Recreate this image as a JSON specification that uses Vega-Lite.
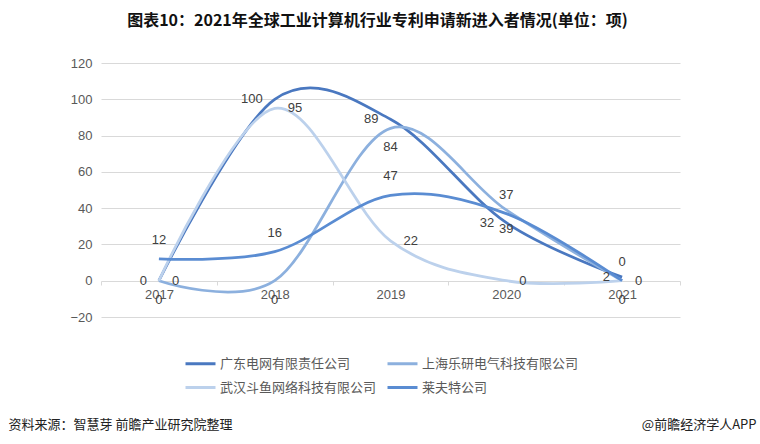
{
  "$schema": "https://vega.github.io/schema/vega-lite/v6.json",
  "autosize": {"type": "none"},
  "width": 579,
  "height": 254,
  "padding": {"left": 101, "top": 63, "right": 80, "bottom": 127},
  "background": "white",
  "title": {
    "text": "图表10：2021年全球工业计算机行业专利申请新进入者情况(单位：项)",
    "font": "Noto Sans CJK SC",
    "fontSize": 16,
    "fontWeight": "bold",
    "color": "#111111",
    "anchor": "middle",
    "dx": -13,
    "offset": 28
  },
  "data": {
    "values": [
      {"company": "广东电网有限责任公司", "year": "2017", "value": 0},
      {"company": "广东电网有限责任公司", "year": "2018", "value": 100},
      {"company": "广东电网有限责任公司", "year": "2019", "value": 89},
      {"company": "广东电网有限责任公司", "year": "2020", "value": 32},
      {"company": "广东电网有限责任公司", "year": "2021", "value": 2},
      {"company": "上海乐研电气科技有限公司", "year": "2017", "value": 0},
      {"company": "上海乐研电气科技有限公司", "year": "2018", "value": 0},
      {"company": "上海乐研电气科技有限公司", "year": "2019", "value": 84},
      {"company": "上海乐研电气科技有限公司", "year": "2020", "value": 39},
      {"company": "上海乐研电气科技有限公司", "year": "2021", "value": 0},
      {"company": "武汉斗鱼网络科技有限公司", "year": "2017", "value": 0},
      {"company": "武汉斗鱼网络科技有限公司", "year": "2018", "value": 95},
      {"company": "武汉斗鱼网络科技有限公司", "year": "2019", "value": 22},
      {"company": "武汉斗鱼网络科技有限公司", "year": "2020", "value": 0},
      {"company": "武汉斗鱼网络科技有限公司", "year": "2021", "value": 0},
      {"company": "莱夫特公司", "year": "2017", "value": 12},
      {"company": "莱夫特公司", "year": "2018", "value": 16},
      {"company": "莱夫特公司", "year": "2019", "value": 47},
      {"company": "莱夫特公司", "year": "2020", "value": 37},
      {"company": "莱夫特公司", "year": "2021", "value": 0}
    ]
  },
  "encoding": {
    "x": {
      "field": "year",
      "type": "ordinal",
      "bandPosition": 0.5,
      "scale": {"type": "band", "paddingInner": 0, "paddingOuter": 0},
      "axis": {
        "title": "@前瞻经济学人APP",
        "titleFont": "Noto Sans CJK SC",
        "titleFontSize": 13,
        "titleFontWeight": "normal",
        "titleColor": "#222222",
        "titleAlign": "right",
        "titleBaseline": "middle",
        "titleX": 655,
        "titleY": 143,
        "offset": -36,
        "labelAngle": 0,
        "labelFont": "Liberation Sans",
        "labelFontSize": 13,
        "labelColor": "#595959",
        "labelPadding": 3,
        "domain": false,
        "ticks": true,
        "tickBand": "extent",
        "tickColor": "#d9d9d9",
        "tickSize": 4,
        "grid": false
      }
    },
    "y": {
      "field": "value",
      "type": "quantitative",
      "scale": {"domain": [-20, 120], "nice": false, "zero": false},
      "axis": {
        "values": [-20, 0, 20, 40, 60, 80, 100, 120],
        "title": "资料来源：智慧芽 前瞻产业研究院整理",
        "titleFont": "Noto Sans CJK SC",
        "titleFontSize": 13,
        "titleFontWeight": "normal",
        "titleColor": "#222222",
        "titleAngle": 0,
        "titleAlign": "left",
        "titleBaseline": "middle",
        "titleX": -93,
        "titleY": 361,
        "domain": false,
        "ticks": false,
        "labelPadding": 9,
        "labelFont": "Liberation Sans",
        "labelFontSize": 13,
        "labelColor": "#595959",
        "gridColor": "#d9d9d9",
        "gridWidth": 1
      }
    }
  },
  "layer": [
    {
      "mark": {"type": "line", "interpolate": "cardinal", "strokeWidth": 2.75},
      "encoding": {
        "color": {
          "field": "company",
          "type": "nominal",
          "scale": {
            "domain": ["广东电网有限责任公司", "上海乐研电气科技有限公司", "武汉斗鱼网络科技有限公司", "莱夫特公司"],
            "range": ["#4a78c0", "#8cb0de", "#bcd1ec", "#5a8cd2"]
          },
          "legend": {
            "orient": "none",
            "legendX": 83,
            "legendY": 284,
            "columns": 2,
            "direction": "horizontal",
            "title": null,
            "symbolType": "stroke",
            "symbolSize": 900,
            "symbolStrokeWidth": 3,
            "labelFont": "Noto Sans CJK SC",
            "labelFontSize": 13,
            "labelColor": "#595959",
            "labelOffset": 3,
            "columnPadding": 4,
            "rowPadding": -13
          }
        }
      }
    },
    {
      "transform": [{"filter": "datum.company === '广东电网有限责任公司'"}],
      "mark": {"type": "text", "align": "right", "baseline": "middle", "dx": -12, "font": "Liberation Sans", "fontSize": 13, "color": "#404040"},
      "encoding": {"text": {"field": "value", "type": "quantitative"}}
    },
    {
      "transform": [{"filter": "datum.company === '武汉斗鱼网络科技有限公司'"}],
      "mark": {"type": "text", "align": "left", "baseline": "middle", "dx": 13, "font": "Liberation Sans", "fontSize": 13, "color": "#404040"},
      "encoding": {"text": {"field": "value", "type": "quantitative"}}
    },
    {
      "transform": [{"filter": "datum.company === '上海乐研电气科技有限公司'"}],
      "mark": {"type": "text", "align": "center", "baseline": "middle", "dy": 19, "font": "Liberation Sans", "fontSize": 13, "color": "#404040"},
      "encoding": {"text": {"field": "value", "type": "quantitative"}}
    },
    {
      "transform": [{"filter": "datum.company === '莱夫特公司'"}],
      "mark": {"type": "text", "align": "center", "baseline": "middle", "dy": -19, "font": "Liberation Sans", "fontSize": 13, "color": "#404040"},
      "encoding": {"text": {"field": "value", "type": "quantitative"}}
    }
  ],
  "config": {"view": {"stroke": null}}
}
